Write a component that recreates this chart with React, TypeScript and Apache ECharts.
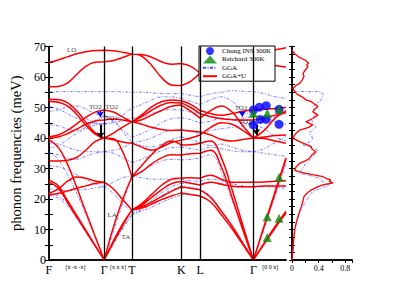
import React, { useEffect, useRef } from "react";
import * as echarts from "echarts";

const FONT = "Liberation Serif, Times New Roman, serif";

// x nodes of each path segment: F-Γ, Γ-T, T-K, K-L, L-Γ, Γ-[00x]
const SEG_X = [
  [0, 9.33, 18.67, 28, 37.33, 46.67, 56],
  [56, 65.33, 74.67, 84],
  [84, 94, 104, 114, 124, 134],
  [134, 143.5, 153],
  [153, 163.8, 174.6, 185.4, 196.2, 207],
  [207, 218, 229, 240],
];

const X_LABEL_POS = [0, 56, 84, 134, 153, 207, 27, 70, 224];
const X_LABEL_TEXT = ["F", "Γ", "T", "K", "L", "Γ", "[x -x -x]", "[x x x]", "[0 0 x]"];
const HSYM_LINES = [56, 84, 134, 153, 207];

// GGA+U (red) branches per segment (meV)
const RED_F_G = [
  [64.8, 65.6, 66.6, 67.6, 68.3, 68.7, 68.8],
  [56.8, 56.9, 58.0, 60.8, 63.5, 64.8, 65.0],
  [52.7, 52.6, 51.6, 49.0, 45.2, 41.8, 40.0],
  [52.0, 51.7, 50.5, 47.8, 44.2, 41.3, 40.0],
  [40.4, 41.0, 42.5, 44.6, 46.8, 48.5, 49.2],
  [39.9, 40.3, 41.4, 42.9, 44.5, 45.6, 45.9],
  [39.5, 37.0, 31.5, 24.0, 15.8, 7.9, 0],
  [32.5, 32.5, 32.7, 33.6, 36.0, 38.8, 40.0],
  [26.2, 24.4, 19.6, 14.7, 9.8, 4.9, 0],
  [25.6, 23.6, 19.0, 14.2, 9.5, 4.7, 0],
  [21.9, 23.2, 25.8, 27.2, 26.8, 25.9, 25.5],
  [21.3, 21.8, 22.6, 23.5, 24.3, 25.1, 25.5],
];
const RED_G_T = [
  [68.8, 68.6, 68.1, 67.5],
  [65.0, 65.4, 66.4, 67.5],
  [49.2, 48.5, 46.9, 45.3],
  [45.9, 46.2, 45.9, 45.3],
  [40.0, 41.6, 43.6, 45.3],
  [40.0, 39.8, 35.5, 27.3],
  [40.0, 39.4, 38.7, 38.3],
  [25.5, 23.3, 19.8, 16.4],
  [0, 6.3, 11.8, 16.4],
  [0, 5.8, 11.3, 16.4],
  [0, 10.8, 19.8, 27.3],
];
const RED_T_K = [
  [67.5, 67.4, 66.5, 65.0, 64.2, 64.4],
  [67.5, 66.8, 63.8, 59.8, 57.4, 57.2],
  [45.3, 47.6, 50.2, 51.9, 52.5, 52.2],
  [45.3, 47.0, 49.1, 50.8, 51.6, 51.5],
  [45.3, 46.0, 47.5, 49.0, 50.4, 50.8],
  [45.3, 44.5, 43.5, 42.8, 42.5, 42.6],
  [38.3, 37.0, 36.0, 37.0, 38.5, 39.3],
  [27.3, 31.0, 34.6, 37.4, 39.0, 37.7],
  [27.3, 29.0, 31.5, 33.5, 34.5, 34.4],
  [16.4, 18.5, 21.5, 24.5, 26.5, 26.9],
  [16.4, 18.0, 20.5, 23.0, 25.0, 25.7],
  [16.4, 17.5, 19.0, 20.8, 22.5, 24.0],
  [16.4, 17.0, 18.3, 19.8, 21.0, 22.0],
];
const RED_K_L = [
  [64.4, 63.5, 61.3],
  [57.2, 58.6, 61.3],
  [52.2, 51.0, 49.0],
  [51.5, 50.0, 48.0],
  [50.8, 48.8, 46.5],
  [42.6, 42.3, 42.0],
  [39.3, 40.0, 41.0],
  [37.7, 37.8, 38.3],
  [34.4, 34.8, 35.0],
  [26.9, 27.0, 26.8],
  [25.7, 25.2, 24.6],
  [24.0, 23.5, 23.0],
  [22.0, 21.5, 21.0],
];
const RED_L_G = [
  [61.3, 63.0, 65.5, 67.5, 68.5, 68.8],
  [61.3, 61.0, 61.5, 63.0, 64.5, 65.0],
  [49.0, 48.0, 47.5, 48.0, 48.8, 49.2],
  [48.0, 47.0, 46.3, 46.0, 45.9, 45.9],
  [46.5, 49.0, 50.5, 48.5, 44.0, 40.0],
  [42.0, 41.0, 39.5, 39.0, 39.5, 40.0],
  [41.0, 43.5, 45.0, 44.5, 42.5, 40.0],
  [38.3, 39.0, 33.5, 23.0, 11.5, 0],
  [35.0, 36.0, 30.5, 20.5, 10.0, 0],
  [26.8, 27.8, 26.5, 25.5, 25.5, 25.5],
  [24.6, 25.5, 24.8, 24.2, 24.0, 24.0],
  [23.0, 20.5, 16.0, 11.2, 5.6, 0],
  [21.0, 19.0, 14.8, 10.2, 5.1, 0],
];
const RED_G_X = [
  [68.8, 68.6, 68.9, 69.6],
  [65.0, 64.5, 63.8, 63.3],
  [49.2, 49.4, 49.7, 50.0],
  [45.9, 46.5, 47.5, 48.3],
  [40.0, 42.5, 46.5, 49.0],
  [40.0, 39.8, 39.0, 38.3],
  [40.0, 40.3, 40.8, 41.0],
  [0, 11.3, 22.5, 33.5],
  [0, 11.0, 22.0, 33.0],
  [0, 5.6, 11.0, 16.0],
  [0, 5.3, 10.5, 15.4],
  [25.5, 25.6, 25.8, 26.0],
  [24.0, 24.3, 24.3, 24.3],
];

// GGA (blue) branches per segment (meV)
const BLUE_F_G = [
  [55.2, 55.2, 55.2, 55.2, 55.2, 55.2, 55.2],
  [52.5, 52.0, 50.5, 48.5, 46.5, 45.0, 44.6],
  [50.3, 49.5, 48.0, 46.5, 45.3, 44.7, 44.6],
  [48.6, 49.2, 50.2, 50.5, 49.5, 48.0, 47.2],
  [44.3, 44.0, 43.0, 42.5, 43.5, 45.5, 47.2],
  [38.4, 38.0, 37.0, 36.0, 35.6, 35.5, 35.5],
  [36.7, 37.5, 39.5, 41.5, 43.0, 44.2, 44.6],
  [35.0, 34.5, 33.5, 33.0, 34.0, 35.0, 35.5],
  [31.0, 30.5, 29.5, 28.0, 26.5, 25.0, 24.0],
  [35.5, 33.0, 28.0, 22.0, 15.0, 7.6, 0],
  [22.0, 21.0, 18.5, 14.0, 9.3, 4.7, 0],
  [21.3, 20.3, 17.8, 13.6, 9.0, 4.5, 0],
  [23.5, 23.0, 22.8, 23.0, 23.2, 23.6, 24.0],
];
const BLUE_G_T = [
  [55.2, 55.2, 55.1, 55.0],
  [44.6, 45.5, 47.5, 49.8],
  [44.6, 45.0, 45.8, 46.5],
  [47.2, 45.5, 42.5, 40.3],
  [47.2, 46.0, 42.0, 38.5],
  [35.5, 36.0, 36.8, 38.5],
  [35.5, 35.0, 33.5, 32.0],
  [24.0, 25.5, 27.0, 27.5],
  [24.0, 21.8, 18.6, 15.5],
  [0, 9.5, 18.5, 27.5],
  [0, 5.5, 10.5, 15.0],
  [0, 5.3, 10.2, 14.8],
];
const BLUE_T_K = [
  [55.0, 55.0, 54.8, 54.6, 54.5, 54.6],
  [49.8, 51.0, 52.5, 53.5, 53.5, 53.0],
  [46.5, 47.0, 48.0, 49.0, 49.3, 49.2],
  [40.3, 41.5, 43.0, 45.0, 46.3, 46.6],
  [38.5, 39.0, 40.0, 41.5, 42.5, 42.6],
  [38.5, 37.5, 37.0, 38.0, 39.5, 40.4],
  [32.0, 33.0, 34.5, 35.8, 36.8, 37.0],
  [27.5, 29.0, 31.0, 32.5, 33.0, 32.8],
  [27.5, 27.0, 26.5, 26.5, 26.5, 26.5],
  [15.5, 17.0, 19.5, 22.0, 24.0, 25.2],
  [15.0, 16.5, 18.5, 21.0, 23.0, 23.6],
  [14.8, 16.0, 17.3, 18.8, 20.2, 21.3],
];
const BLUE_K_L = [
  [54.6, 54.0, 53.5],
  [53.0, 52.0, 51.0],
  [49.2, 48.5, 48.0],
  [46.6, 46.0, 45.0],
  [42.6, 42.0, 41.5],
  [40.4, 39.5, 38.5],
  [37.0, 36.5, 36.0],
  [32.8, 33.0, 33.5],
  [26.5, 26.0, 25.8],
  [25.2, 25.0, 24.5],
  [23.6, 23.8, 23.0],
  [21.3, 21.5, 21.0],
];
const BLUE_L_G = [
  [53.5, 54.5, 55.0, 55.5, 55.3, 55.2],
  [51.0, 52.5, 53.5, 52.0, 49.0, 47.2],
  [48.0, 47.0, 46.5, 46.0, 46.5, 47.2],
  [45.0, 45.5, 46.5, 46.0, 45.0, 44.6],
  [41.5, 42.5, 43.0, 43.5, 44.0, 44.6],
  [38.5, 37.5, 38.0, 37.0, 36.0, 35.5],
  [36.0, 37.0, 36.5, 35.8, 35.5, 35.5],
  [33.5, 34.5, 29.0, 19.5, 9.8, 0],
  [25.8, 26.5, 26.0, 25.0, 24.3, 24.0],
  [24.5, 25.5, 25.0, 24.3, 24.0, 24.0],
  [23.0, 21.0, 16.0, 10.8, 5.4, 0],
  [21.0, 19.0, 14.8, 10.2, 5.1, 0],
];
const BLUE_G_X = [
  [55.2, 54.5, 53.5, 53.0],
  [47.2, 46.5, 45.5, 44.5],
  [44.6, 43.0, 40.5, 39.0],
  [44.6, 45.5, 47.0, 48.0],
  [35.5, 36.5, 38.5, 40.5],
  [35.5, 35.0, 34.5, 34.0],
  [0, 10.5, 21.0, 31.5],
  [0, 5.3, 10.5, 15.5],
  [24.0, 24.0, 23.8, 23.5],
];

// Experimental points
const CHUNG_X = [207, 207, 213, 220, 214, 220, 233, 233];
const CHUNG_Y = [44.3, 49.2, 50.1, 50.6, 46.1, 46.1, 49.4, 44.5];
const REICH_X = [207, 221, 233, 221, 221, 233, 233];
const REICH_Y = [48.1, 48.1, 49.4, 7.4, 14.2, 13.7, 27.1];

// DOS (energy meV, states)
const DOS_RED_E = [0, 1.5, 3.3, 6.6, 9.8, 12, 14.2, 16, 17.5, 19, 20.8, 22, 23, 24, 24.6, 25.3, 25.8, 26.3, 26.8, 27.3, 28.4, 29, 29.5, 30.5, 31.7, 32.5, 33.3, 34.5, 35.5, 36.3, 37.2, 38, 38.8, 39.9, 41, 42, 42.6, 43.5, 44.3, 45.3, 46.3, 47.5, 48.6, 49.5, 50.3, 51.2, 51.9, 52.5, 53.5, 54.3, 55.2, 56.3, 57.2, 57.9, 59, 60.1, 61.2, 62.3, 63.4, 64, 64.5, 65.5, 66.7, 67.5, 68.3, 69];
const DOS_RED = [0, 0.005, 0.015, 0.025, 0.04, 0.06, 0.09, 0.115, 0.14, 0.16, 0.18, 0.23, 0.29, 0.38, 0.465, 0.615, 0.56, 0.58, 0.51, 0.465, 0.21, 0.1, 0.04, 0.06, 0.115, 0.2, 0.26, 0.3, 0.36, 0.3, 0.29, 0.2, 0.115, 0.015, 0.04, 0.08, 0.115, 0.25, 0.31, 0.21, 0.3, 0.39, 0.31, 0.34, 0.39, 0.33, 0.29, 0.21, 0.15, 0.08, 0.04, 0.015, 0.06, 0.115, 0.15, 0.18, 0.165, 0.2, 0.24, 0.22, 0.25, 0.2, 0.09, 0.05, 0.015, 0];
const DOS_BLUE_E = [0, 3, 6, 9.8, 13, 15.8, 17.5, 19.1, 21, 22.4, 23.3, 24, 24.6, 25.2, 25.8, 26.8, 27.5, 28.4, 29.5, 30.6, 31.5, 32.2, 33.1, 33.9, 35, 36, 36.8, 37.7, 38.5, 39.3, 40.4, 41.5, 42.6, 43.7, 44.8, 46, 47, 48.1, 49.2, 50.3, 51.2, 52, 53, 54.1, 54.8, 55.2, 55.3];
const DOS_BLUE = [0, 0.01, 0.02, 0.04, 0.08, 0.115, 0.16, 0.21, 0.26, 0.31, 0.4, 0.49, 0.565, 0.5, 0.45, 0.42, 0.3, 0.115, 0.14, 0.18, 0.2, 0.24, 0.28, 0.31, 0.35, 0.39, 0.3, 0.165, 0.24, 0.31, 0.3, 0.26, 0.3, 0.36, 0.33, 0.29, 0.32, 0.36, 0.34, 0.31, 0.37, 0.42, 0.45, 0.47, 0.45, 0.39, 0];

// Annotations
const ANNOT_TEXT = ["LO", "TO2", "TO2", "TO1", "LA", "TA", "TO2", "TO1"];
const ANNOT_X = [23, 47, 63.5, 63.5, 64, 78, 194.5, 198.7];
const ANNOT_Y = [68.8, 50.3, 50.3, 46.7, 14.75, 7.6, 49.9, 45.3];

const RED_SEGS = [RED_F_G, RED_G_T, RED_T_K, RED_K_L, RED_L_G, RED_G_X];
const BLUE_SEGS = [BLUE_F_G, BLUE_G_T, BLUE_T_K, BLUE_K_L, BLUE_L_G, BLUE_G_X];

const BLUE_COLOR = "#4646ff";
const BLUE_DASH = [3, 1.5, 1, 1.5];

function buildBands(segs: number[][][]) {
  const out: any[] = [];
  segs.forEach((branches, si) => {
    const xs = SEG_X[si];
    branches.forEach((b) => {
      b.forEach((y, i) => out.push([xs[i], y]));
      out.push(["-", "-"]);
    });
  });
  return out;
}

const zip = (a: number[], b: number[]) => a.map((v, i) => [v, b[i]]);

export default function App() {
  const ref = useRef<HTMLDivElement>(null);
  useEffect(() => {
    const chart = echarts.init(ref.current!, null, { renderer: "svg" });
    const axisLine = { show: true, lineStyle: { color: "#000", width: 1.5 } };
    const inTick = (len: number) => ({ show: true, inside: true, length: len, lineStyle: { color: "#000", width: 1 } });
    const option: any = {
      animation: false,
      backgroundColor: "#fff",
      grid: [
        { left: 46, right: 112, top: 46.5, bottom: 47 },
        { left: 292, right: 46, top: 46.5, bottom: 47 },
      ],
      legend: {
        data: [
          { name: "Chung INS 300K" },
          { name: "Reichard 300K" },
          { name: "GGA", itemStyle: { opacity: 0 } },
          { name: "GGA+U", itemStyle: { opacity: 0 } },
        ],
        orient: "vertical",
        left: 199,
        top: 46,
        padding: [1, 4, 1, 3],
        itemGap: 0.4,
        itemWidth: 14,
        itemHeight: 8,
        backgroundColor: "#fff",
        borderColor: "#000",
        borderWidth: 1,
        borderRadius: 0,
        textStyle: { fontFamily: FONT, fontSize: 7, color: "#000", lineHeight: 8 },
        selectedMode: false,
      },
      xAxis: [
        {
          gridIndex: 0, type: "value", min: 0, max: 240, position: "bottom",
          axisLine, axisTick: { show: false }, splitLine: { show: false },
          axisLabel: {
            customValues: X_LABEL_POS,
            margin: 4,
            color: "#000",
            fontFamily: FONT,
            fontSize: 12,
            formatter: (v: number) => {
              const i = X_LABEL_POS.indexOf(v);
              if (i < 0) return "";
              return i >= 6 ? "{s|" + X_LABEL_TEXT[i] + "}" : X_LABEL_TEXT[i];
            },
            rich: { s: { fontSize: 6, fontFamily: FONT, color: "#000" } },
          },
        },
        {
          gridIndex: 0, type: "value", min: 0, max: 240, position: "top",
          axisLine, axisTick: { show: false }, axisLabel: { show: false }, splitLine: { show: false },
        },
        {
          gridIndex: 1, type: "value", min: 0, max: 0.9, interval: 0.2, position: "bottom",
          axisLine, axisTick: { show: false }, splitLine: { show: false },
          axisLabel: {
            margin: 4, color: "#000", fontFamily: FONT, fontSize: 8,
            formatter: (v: number) => {
              const r = Math.round(v * 10);
              return r === 0 ? "0" : r === 4 ? "0.4" : r === 8 ? "0.8" : "";
            },
          },
        },
        {
          gridIndex: 1, type: "value", min: 0, max: 0.9, interval: 0.2, position: "top",
          axisLine, axisTick: inTick(3), axisLabel: { show: false }, splitLine: { show: false },
        },
      ],
      yAxis: [
        {
          gridIndex: 0, type: "value", min: 0, max: 70, interval: 5, position: "left",
          axisLine, axisTick: inTick(4), splitLine: { show: false },
          axisLabel: {
            margin: 3, color: "#000", fontFamily: FONT, fontSize: 12,
            formatter: (v: number) => (v % 10 === 0 ? String(v) : ""),
          },
          name: "phonon frequencies (meV)",
          nameLocation: "middle",
          nameGap: 16,
          nameTextStyle: { fontFamily: FONT, fontSize: 14.5, color: "#000" },
        },
        {
          gridIndex: 0, type: "value", min: 0, max: 70, interval: 5, position: "right",
          axisLine, axisTick: inTick(4), axisLabel: { show: false }, splitLine: { show: false },
        },
        {
          gridIndex: 1, type: "value", min: 0, max: 70, interval: 2.5, position: "left",
          axisLine, axisTick: inTick(3), axisLabel: { show: false }, splitLine: { show: false },
        },
        {
          gridIndex: 1, type: "value", min: 0, max: 70, interval: 2.5, position: "right",
          axisLine, axisTick: inTick(3), axisLabel: { show: false }, splitLine: { show: false },
        },
      ],
      series: [
        {
          name: "GGA", type: "line", xAxisIndex: 0, yAxisIndex: 0,
          data: buildBands(BLUE_SEGS), symbol: "none", showSymbol: false,
          smooth: 0.4, connectNulls: false, silent: true, z: 2,
          lineStyle: { color: BLUE_COLOR, width: 0.7, type: BLUE_DASH },
          itemStyle: { color: BLUE_COLOR },
        },
        {
          name: "GGA+U", type: "line", xAxisIndex: 0, yAxisIndex: 0,
          data: buildBands(RED_SEGS), symbol: "none", showSymbol: false,
          smooth: 0.4, connectNulls: false, silent: true, z: 3,
          lineStyle: { color: "#ff0000", width: 1.5 },
          itemStyle: { color: "#ff0000" },
          markLine: {
            silent: true, symbol: "none", label: { show: false },
            lineStyle: { color: "#000", width: 1.3, type: "solid" },
            data: HSYM_LINES.map((x) => ({ xAxis: x })),
          },
        },
        {
          name: "GGA", type: "line", xAxisIndex: 2, yAxisIndex: 2,
          data: zip(DOS_BLUE, DOS_BLUE_E), symbol: "none", showSymbol: false, silent: true,
          lineStyle: { color: BLUE_COLOR, width: 0.7, type: BLUE_DASH },
          itemStyle: { color: BLUE_COLOR },
        },
        {
          name: "GGA+U", type: "line", xAxisIndex: 2, yAxisIndex: 2,
          data: zip(DOS_RED, DOS_RED_E), symbol: "none", showSymbol: false, silent: true,
          lineStyle: { color: "#ff0000", width: 1.3 },
          itemStyle: { color: "#ff0000" },
        },
        {
          name: "Chung INS 300K", type: "scatter", xAxisIndex: 0, yAxisIndex: 0,
          data: zip(CHUNG_X, CHUNG_Y), symbol: "circle", symbolSize: 9, z: 5,
          itemStyle: { color: "#0000ff" }, silent: true,
        },
        {
          name: "Reichard 300K", type: "scatter", xAxisIndex: 0, yAxisIndex: 0,
          data: zip(REICH_X, REICH_Y), symbol: "triangle", symbolSize: 9, z: 6,
          itemStyle: { color: "#0a8a0a" }, silent: true,
        },
        {
          name: "annot", type: "scatter", xAxisIndex: 0, yAxisIndex: 0,
          data: zip(ANNOT_X, ANNOT_Y), symbolSize: 0.1, z: 7, silent: true,
          itemStyle: { color: "rgba(0,0,0,0)" },
          label: {
            show: true, position: "inside", fontFamily: FONT, fontSize: 7, color: "#000",
            formatter: (p: any) => ANNOT_TEXT[p.dataIndex],
          },
          markLine: {
            silent: true, symbol: ["none", "arrow"], symbolSize: 6, label: { show: false },
            data: [
              [{ coord: [52.3, 44.3], lineStyle: { color: "#000", width: 2, type: "solid" } }, { coord: [52.3, 39.9] }],
              [{ coord: [52, 48.9], lineStyle: { color: "#0000ff", width: 1, type: "solid" } }, { coord: [52, 46.8] }],
              [{ coord: [210, 44.3], lineStyle: { color: "#000", width: 2, type: "solid" } }, { coord: [210, 41] }],
              [{ coord: [195.7, 48.6], lineStyle: { color: "#0000ff", width: 1, type: "solid" } }, { coord: [195.7, 47.0] }],
            ],
          },
        },
      ],
    };
    chart.setOption(option);
    return () => chart.dispose();
  }, []);
  return <div ref={ref} style={{ position: "fixed", left: 0, top: 0, width: 398, height: 307 }} />;
}
